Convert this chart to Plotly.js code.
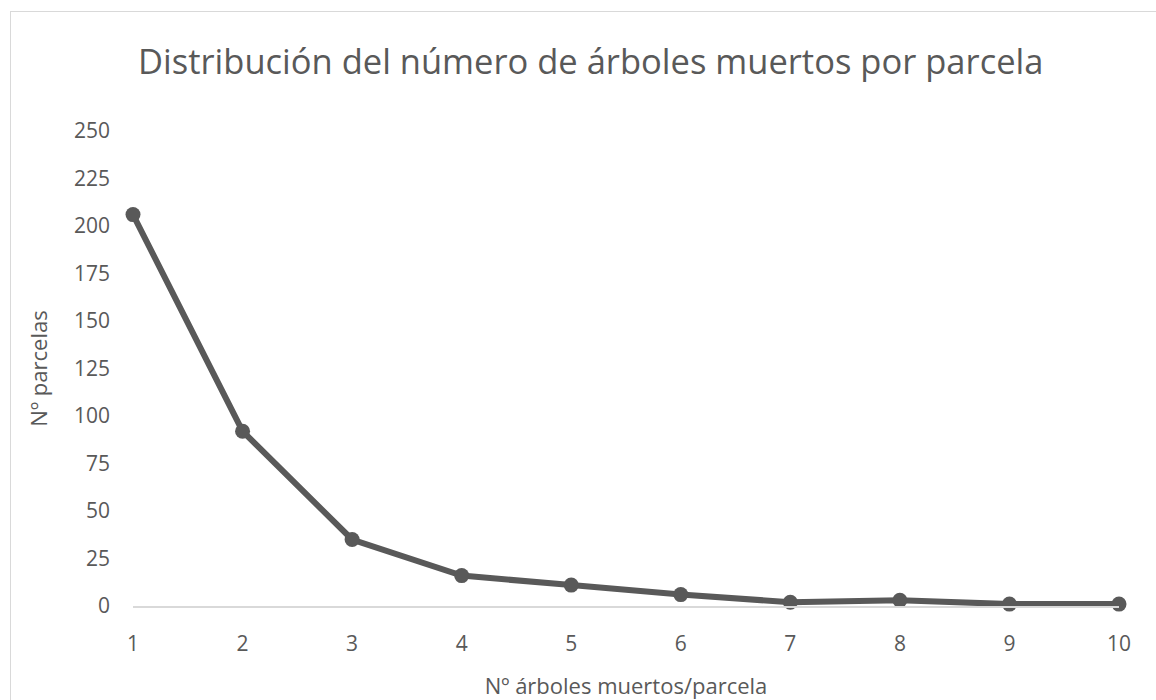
<!DOCTYPE html>
<html>
<head>
<meta charset="utf-8">
<script src="https://cdn.plot.ly/plotly-3.0.1.min.js"></script>
<style>
  html, body { margin: 0; padding: 0; background: #ffffff; overflow: hidden; }
  #chart { position: absolute; left: 0; top: 0; width: 1156px; height: 700px; }
  #frame { position: absolute; left: 10px; top: 11px; width: 1200px; height: 760px;
           border: 1px solid #d9d9d9; pointer-events: none; }
</style>
</head>
<body>
<div id="chart"></div>
<div id="frame"></div>
<script>
// Dead trees per plot (x) and number of plots with that count (y)
const deadTrees = [1, 2, 3, 4, 5, 6, 7, 8, 9, 10];
const plotCounts = [206, 92, 35, 16, 11, 6, 2, 3, 1, 1];
const yTicks = [0, 25, 50, 75, 100, 125, 150, 175, 200, 225, 250];

const grey = '#595959';
const fontFamily = '"Open Sans", "Noto Sans", sans-serif';

const trace = {
  x: deadTrees,
  y: plotCounts,
  type: 'scatter',
  mode: 'lines+markers',
  line: { color: grey, width: 6 },
  marker: { color: grey, size: 15 },
  cliponaxis: false,
  hoverinfo: 'x+y'
};

const layout = {
  width: 1156,
  height: 700,
  paper_bgcolor: '#ffffff',
  plot_bgcolor: '#ffffff',
  margin: { l: 133, r: 37, t: 131, b: 94 },
  showlegend: false,
  title: {
    text: 'Distribución del número de árboles muertos por parcela',
    font: { family: fontFamily, size: 34.5, color: grey },
    x: 0.511, xanchor: 'center',
    y: 0.911, yanchor: 'middle'
  },
  xaxis: {
    range: [1, 10],
    tickvals: deadTrees,
    ticktext: deadTrees.map(String),
    showgrid: false,
    zeroline: false,
    showline: true,
    linecolor: '#d9d9d9',
    linewidth: 1.5,
    ticks: '',
    ticklabelstandoff: 18,
    tickfont: { family: fontFamily, size: 21, color: grey },
    title: {
      text: 'Nº árboles muertos/parcela',
      font: { family: fontFamily, size: 22, color: grey },
      standoff: 24
    }
  },
  yaxis: {
    range: [0, 250],
    tickvals: yTicks,
    ticktext: yTicks.map(String),
    showgrid: false,
    zeroline: false,
    showline: false,
    ticks: '',
    ticklabelstandoff: 22,
    tickfont: { family: fontFamily, size: 21, color: grey },
    title: {
      text: 'Nº parcelas',
      font: { family: fontFamily, size: 22, color: grey },
      standoff: 20
    }
  }
};

Plotly.newPlot('chart', [trace], layout, { displayModeBar: false, staticPlot: true });
</script>
</body>
</html>
